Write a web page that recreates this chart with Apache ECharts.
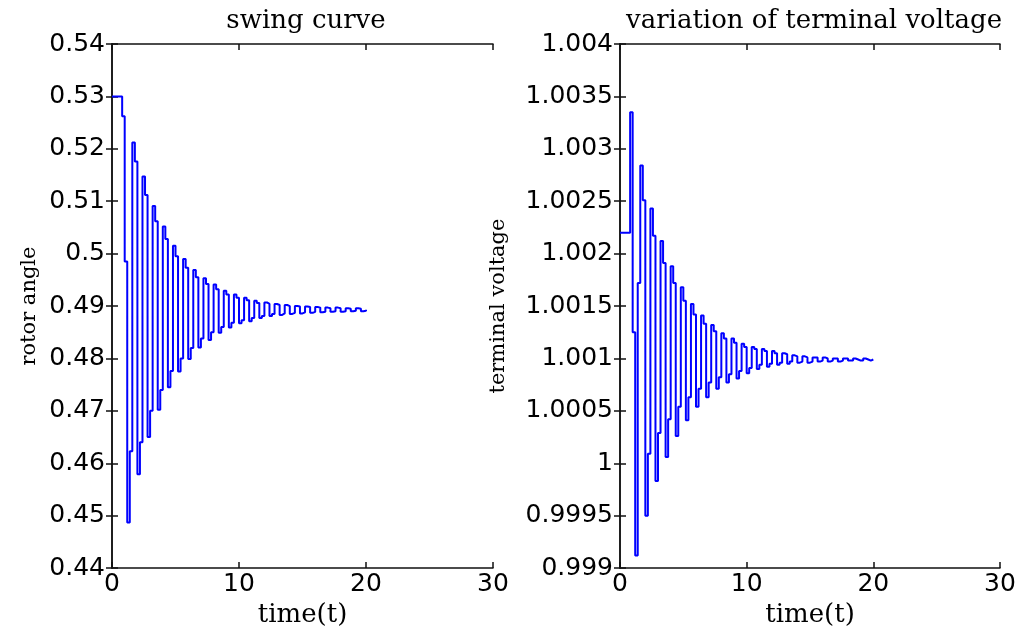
<!DOCTYPE html>
<html>
<head>
<meta charset="utf-8">
<title>swing curve</title>
<script src="https://cdn.jsdelivr.net/npm/echarts@6/dist/echarts.min.js"></script>
<style>
  html, body { margin: 0; padding: 0; background: #fff; }
  #chart { width: 1021px; height: 633px; }
</style>
</head>
<body>
<div id="chart"></div>
<script>
// sample times (s)
const time = [
  0, 0.2, 0.4, 0.6, 0.8, 1, 1.2, 1.4, 1.6, 1.8,
  2, 2.2, 2.4, 2.6, 2.8, 3, 3.2, 3.4, 3.6, 3.8,
  4, 4.2, 4.4, 4.6, 4.8, 5, 5.2, 5.4, 5.6, 5.8,
  6, 6.2, 6.4, 6.6, 6.8, 7, 7.2, 7.4, 7.6, 7.8,
  8, 8.2, 8.4, 8.6, 8.8, 9, 9.2, 9.4, 9.6, 9.8,
  10, 10.2, 10.4, 10.6, 10.8, 11, 11.2, 11.4, 11.6, 11.8,
  12, 12.2, 12.4, 12.6, 12.8, 13, 13.2, 13.4, 13.6, 13.8,
  14, 14.2, 14.4, 14.6, 14.8, 15, 15.2, 15.4, 15.6, 15.8,
  16, 16.2, 16.4, 16.6, 16.8, 17, 17.2, 17.4, 17.6, 17.8,
  18, 18.2, 18.4, 18.6, 18.8, 19, 19.2, 19.4, 19.6, 19.8,
  20
]

// rotor angle
const rotorAngle = [
  0.53, 0.53, 0.53, 0.53, 0.5262, 0.4985, 0.4487, 0.4623, 0.5212, 0.5176,
  0.4579, 0.4640, 0.5147, 0.5112, 0.4650, 0.4700, 0.5091, 0.5062, 0.4702, 0.4740,
  0.5052, 0.5028, 0.4745, 0.4776, 0.5015, 0.4995, 0.4775, 0.4800, 0.4990, 0.4973,
  0.4799, 0.4820, 0.4969, 0.4955, 0.4821, 0.4838, 0.4953, 0.4942, 0.4835, 0.4850,
  0.4941, 0.4932, 0.4849, 0.4860, 0.4929, 0.4922, 0.4859, 0.4868, 0.4922, 0.4916,
  0.4867, 0.4873, 0.4916, 0.4911, 0.4871, 0.4877, 0.4910, 0.4906, 0.4877, 0.4881,
  0.4907, 0.4904, 0.4881, 0.4885, 0.4904, 0.4902, 0.4883, 0.4886, 0.4902, 0.4900,
  0.4885, 0.4887, 0.4900, 0.4899, 0.4886, 0.4888, 0.4899, 0.4898, 0.4887, 0.4889,
  0.4898, 0.4897, 0.4888, 0.4889, 0.4897, 0.4896, 0.4889, 0.4890, 0.4897, 0.4896,
  0.4889, 0.4890, 0.4896, 0.4895, 0.4890, 0.4891, 0.4896, 0.4895, 0.4890, 0.4891,
  0.4893
]

// terminal voltage
const terminalVoltage = [
  1.0022, 1.0022, 1.0022, 1.0022, 1.00335, 1.00125, 0.99912, 1.00172, 1.00284, 1.00251,
  0.99950, 1.00009, 1.00243, 1.00217, 0.99983, 1.00029, 1.00212, 1.00191, 1.00006, 1.00042,
  1.00188, 1.00172, 1.00026, 1.00054, 1.00168, 1.00155, 1.00041, 1.00063, 1.00152, 1.00142,
  1.00054, 1.00071, 1.00141, 1.00133, 1.00063, 1.00077, 1.00132, 1.00126, 1.00071, 1.00082,
  1.00124, 1.00119, 1.00077, 1.00085, 1.00119, 1.00115, 1.00081, 1.00088, 1.00114, 1.00111,
  1.00086, 1.00091, 1.00111, 1.00109, 1.00090, 1.00094, 1.00109, 1.00107, 1.00092, 1.00095,
  1.00107, 1.00105, 1.00094, 1.00096, 1.00105, 1.00104, 1.00095, 1.00097, 1.00103, 1.00102,
  1.00096, 1.00097, 1.00102, 1.00101, 1.00096, 1.00097, 1.00101, 1.00101, 1.00097, 1.00098,
  1.00101, 1.00100, 1.00097, 1.00098, 1.00100, 1.00100, 1.00097, 1.00098, 1.00100, 1.00100,
  1.00098, 1.00098, 1.00100, 1.00099, 1.00098, 1.00098, 1.00100, 1.00099, 1.00098, 1.00099,
  1.00099
]

const timeTicks = { min: 0, max: 30, interval: 10 }
const angleTicks = { min: 0.44, max: 0.54, interval: 0.01 }
const voltageTicks = { min: 0.999, max: 1.004, interval: 0.0005 }

const tickFont = "DejaVu Sans"
const textFont = "DejaVu Serif"

// matlab style: 0.5 not 0.50, 1 not 1.000
const fmt = (v) => String(parseFloat(v.toFixed(5)))

const boxLine = { show: true, lineStyle: { color: "#111", width: 1.5 } }
const innerTick = { show: true, inside: true, length: 6, lineStyle: { color: "#111", width: 1.5 } }

function xAxes(grid) {
  return [
    {
      gridIndex: grid, type: "value", position: "bottom", ...timeTicks,
      axisLine: boxLine, axisTick: innerTick, splitLine: { show: false },
      axisLabel: { color: "#000", fontFamily: tickFont, fontSize: 25, margin: 4, formatter: fmt },
      name: "time(t)", nameLocation: "middle", nameGap: 31,
      nameTextStyle: { color: "#000", fontFamily: textFont, fontSize: 26 },
    },
    {
      gridIndex: grid, type: "value", position: "top", ...timeTicks,
      axisLine: boxLine, axisTick: innerTick, splitLine: { show: false },
      axisLabel: { show: false },
    },
  ]
}

function yAxes(grid, ticks, name, gap) {
  return [
    {
      gridIndex: grid, type: "value", position: "left", ...ticks,
      axisLine: boxLine, axisTick: innerTick, splitLine: { show: false },
      axisLabel: { color: "#000", fontFamily: tickFont, fontSize: 25, margin: 7, formatter: fmt },
      name: name, nameLocation: "middle", nameGap: gap,
      nameTextStyle: { color: "#000", fontFamily: textFont, fontSize: 21 },
    },
    {
      gridIndex: grid, type: "value", position: "right", ...ticks,
      axisLine: boxLine, axisTick: innerTick, splitLine: { show: false },
      axisLabel: { show: false },
    },
  ]
}

const chart = echarts.init(document.getElementById("chart"))
chart.setOption({
  animation: false,
  backgroundColor: "#fff",
  title: [
    {
      text: "swing curve", left: 301, top: 3, textAlign: "center",
      textStyle: { color: "#000", fontFamily: textFont, fontSize: 26, fontWeight: "normal" },
    },
    {
      text: "variation of terminal voltage", left: 809, top: 3, textAlign: "center",
      textStyle: { color: "#000", fontFamily: textFont, fontSize: 26, fontWeight: "normal" },
    },
  ],
  grid: [
    { left: 112, top: 44, width: 381, height: 527 },
    { left: 620, top: 44, width: 380, height: 527 },
  ],
  xAxis: [...xAxes(0), ...xAxes(1)],
  yAxis: [
    ...yAxes(0, angleTicks, "rotor angle", 72),
    ...yAxes(1, voltageTicks, "terminal voltage", 111),
  ],
  series: [
    {
      type: "line", step: "end", xAxisIndex: 0, yAxisIndex: 0,
      showSymbol: false, lineStyle: { color: "#0000ff", width: 2 },
      data: time.map((t, i) => [t, rotorAngle[i]]),
    },
    {
      type: "line", step: "end", xAxisIndex: 2, yAxisIndex: 2,
      showSymbol: false, lineStyle: { color: "#0000ff", width: 2 },
      data: time.map((t, i) => [t, terminalVoltage[i]]),
    },
  ],
})
</script>
</body>
</html>
